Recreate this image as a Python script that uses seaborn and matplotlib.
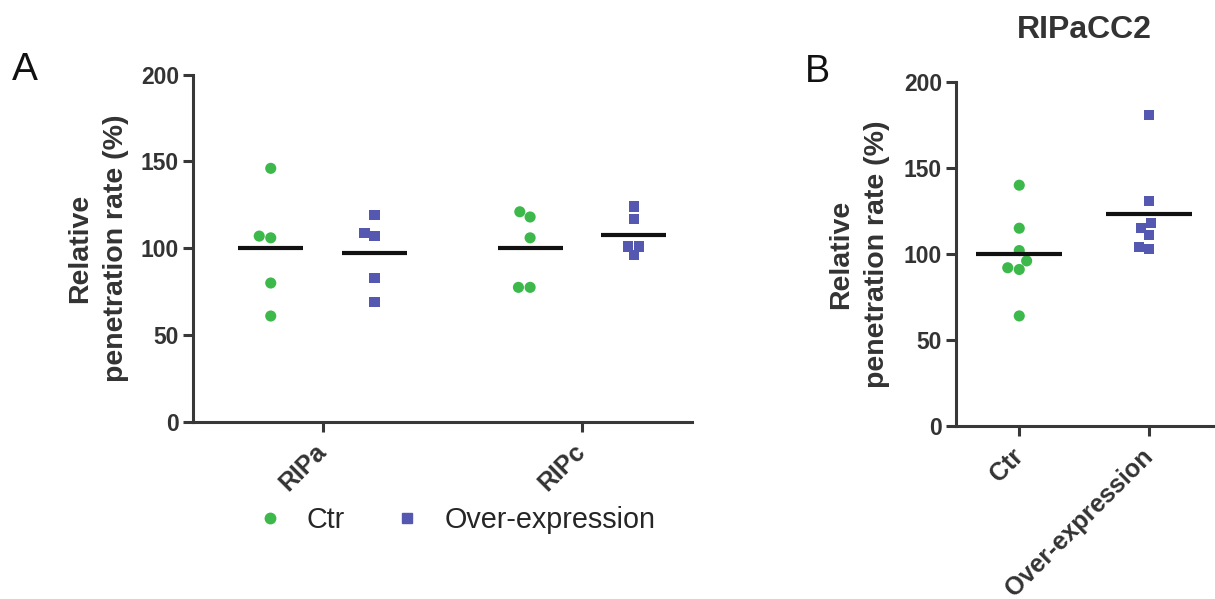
import numpy as np
import pandas as pd
import matplotlib
matplotlib.use("Agg")
import matplotlib.pyplot as plt
from matplotlib.lines import Line2D
from matplotlib import font_manager as fm
import seaborn as sns

# ---------------- data ----------------
groups_A = ["RIPa", "RIPc"]
conds = ["Ctr", "Over-expression"]
ctr_RIPa = [146, 106, 107, 80, 61]
oe_RIPa = [119, 107, 109, 83, 69]
ctr_RIPc = [118, 121, 106, 77.5, 77.5]
oe_RIPc = [124, 117, 101, 96, 101]
ctr_B = [140, 115, 102, 96, 92, 91, 64]
oe_B = [181, 131, 118, 115, 111, 103, 104]
yticks = [0, 50, 100, 150, 200]
title_B = "RIPaCC2"
ylabel = "Relative\npenetration rate (%)"

green = "#3CB94A"
blue = "#5558B0"
palette = {"Ctr": green, "Over-expression": blue}
markers = {"Ctr": "o", "Over-expression": "s"}
msize = {"Ctr": 8, "Over-expression": 7.3}
dark = "#383838"

rows = []
for g, c, vals in [("RIPa", "Ctr", ctr_RIPa), ("RIPa", "Over-expression", oe_RIPa),
                   ("RIPc", "Ctr", ctr_RIPc), ("RIPc", "Over-expression", oe_RIPc)]:
    for v in vals:
        rows.append({"group": g, "cond": c, "value": v})
dfA = pd.DataFrame(rows)
dfB = pd.DataFrame({"cond": ["Ctr"] * len(ctr_B) + ["Over-expression"] * len(oe_B),
                    "value": ctr_B + oe_B})

sns.set_style("ticks")
plt.rcParams["font.family"] = ["Liberation Sans", "DejaVu Sans"]


def find_font(names, bold):
    for nm in names:
        for f in fm.fontManager.ttflist:
            if f.name != nm or f.style != "normal":
                continue
            if "narrow" in f.fname.lower() or "condensed" in f.fname.lower():
                continue
            w = f.weight if isinstance(f.weight, int) else (700 if f.weight == "bold" else 400)
            if (bold and w >= 700) or (not bold and w == 400):
                return f.fname
    return None


bold_file = find_font(["Liberation Sans", "Arimo", "Roboto", "DejaVu Sans"], True)
reg_file = find_font(["Liberation Sans", "Arimo", "Roboto", "DejaVu Sans"], False)


def bprop(size):
    if bold_file:
        return fm.FontProperties(fname=bold_file, size=size)
    return fm.FontProperties(family="DejaVu Sans", weight="bold", size=size)


def rprop(size):
    if reg_file:
        return fm.FontProperties(fname=reg_file, size=size)
    return fm.FontProperties(family="DejaVu Sans", size=size)


fig = plt.figure(figsize=(12.15, 5.99), dpi=100)
axA = fig.add_axes([0.1588, 0.2955, 0.4107, 0.5801])
axB = fig.add_axes([0.7868, 0.2888, 0.2115, 0.5743])

# ---------------- panel A ----------------
for c in conds:
    sns.swarmplot(data=dfA[dfA.cond == c], x="group", y="value", hue="cond",
                  order=groups_A, hue_order=conds, palette=palette, dodge=True,
                  marker=markers[c], size=msize[c], linewidth=0, legend=False,
                  ax=axA, zorder=3)
meansA = dfA.groupby(["group", "cond"])["value"].mean()
for i, g in enumerate(groups_A):
    for j, c in enumerate(conds):
        pos = i + (-0.2 if j == 0 else 0.2)
        axA.hlines(meansA[(g, c)], pos - 0.125, pos + 0.125, color="#111111",
                   lw=3, zorder=4)
axA.set_xlim(-0.5, 1.424)

# ---------------- panel B ----------------
for c in conds:
    sns.swarmplot(data=dfB[dfB.cond == c], x="cond", y="value", hue="cond",
                  order=conds, hue_order=conds, palette=palette,
                  marker=markers[c], size=msize[c], linewidth=0, legend=False,
                  ax=axB, zorder=3)
meansB = dfB.groupby("cond")["value"].mean()
for i, c in enumerate(conds):
    axB.hlines(meansB[c], i - 0.33, i + 0.33, color="#111111", lw=3, zorder=4)
axB.set_xlim(-0.487, 1.49)
axB.set_title(title_B, fontproperties=bprop(23), color="#333333", pad=32)

for ax, lx in [(axA, -0.128), (axB, -0.255)]:
    ax.set_ylim(0, 200)
    ax.set_yticks(yticks)
    ax.set_xlabel("")
    ax.set_ylabel(ylabel, fontproperties=bprop(20.5), color="#333333",
                  linespacing=1.5)
    ax.yaxis.set_label_coords(lx, 0.5)
    for s in ["top", "right"]:
        ax.spines[s].set_visible(False)
    for s in ["left", "bottom"]:
        ax.spines[s].set_linewidth(2.2)
        ax.spines[s].set_color(dark)
    ax.tick_params(axis="both", length=7, width=2.2, color=dark,
                   labelcolor="#333333")
    ax.tick_params(axis="y", pad=3)
    ax.tick_params(axis="x", pad=12)
    for lab in ax.get_yticklabels():
        lab.set_fontproperties(bprop(16.5))
    for lab in ax.get_xticklabels():
        lab.set_fontproperties(bprop(18))
        lab.set_rotation(45)
        lab.set_ha("right")
        lab.set_va("center")
        lab.set_rotation_mode("anchor")

# legend
handles = [Line2D([], [], ls="none", marker="o", color=green, markersize=7.5),
           Line2D([], [], ls="none", marker="s", color=blue, markersize=7)]
fig.legend(handles, conds, loc="center", bbox_to_anchor=(0.3735, 0.132), ncol=2,
           frameon=False, prop=rprop(20.7), handletextpad=0.7, columnspacing=1.55,
           handlelength=1.2)

fig.text(0.0099, 0.866, "A", fontproperties=rprop(28), color="#111111",
         ha="left", va="baseline")
fig.text(0.6626, 0.863, "B", fontproperties=rprop(27), color="#111111",
         ha="left", va="baseline")

fig.savefig("out.png", dpi=100)
